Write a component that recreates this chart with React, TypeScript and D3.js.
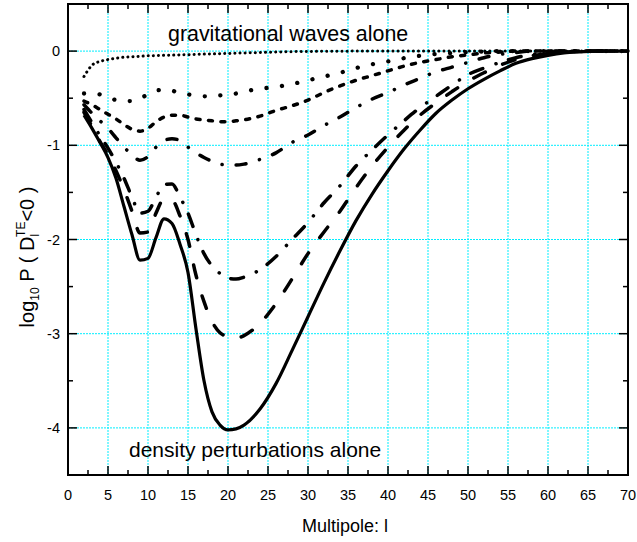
import React from "react";
import * as d3 from "d3";

const ell = [2,3,4,5,6,7,8,9,10,11,12,13,14,15,16,17,18,19,20,21,22,24,26,28,30,32,34,36,38,40,42,44,46,48,50,52,54,56,58,60,62,64,66,70];

const gwOnly = [-0.27,-0.15,-0.11,-0.09,-0.075,-0.065,-0.06,-0.055,-0.05,-0.048,-0.045,-0.043,-0.04,-0.038,-0.035,-0.032,-0.03,-0.027,-0.025,-0.022,-0.02,-0.015,-0.01,-0.006,-0.004,-0.002,-0.001,0,0,0,0,0,0,0,0,0,0,0,0,0,0,0,0,0];
const mixA = [-0.45,-0.45,-0.46,-0.49,-0.52,-0.53,-0.53,-0.5,-0.46,-0.42,-0.41,-0.42,-0.45,-0.46,-0.47,-0.48,-0.48,-0.47,-0.46,-0.45,-0.43,-0.4,-0.38,-0.35,-0.31,-0.27,-0.23,-0.18,-0.14,-0.11,-0.075,-0.05,-0.03,-0.02,-0.01,-0.005,0,0,0,0,0,0,0,0];
const mixB = [-0.53,-0.57,-0.62,-0.67,-0.72,-0.78,-0.83,-0.85,-0.82,-0.75,-0.7,-0.68,-0.68,-0.7,-0.72,-0.73,-0.74,-0.75,-0.75,-0.74,-0.73,-0.69,-0.63,-0.58,-0.52,-0.44,-0.37,-0.31,-0.26,-0.21,-0.16,-0.12,-0.09,-0.06,-0.04,-0.02,-0.01,0,0,0,0,0,0,0];
const mixC = [-0.57,-0.66,-0.74,-0.82,-0.92,-1.02,-1.1,-1.16,-1.12,-1.02,-0.95,-0.93,-0.95,-1.02,-1.08,-1.13,-1.17,-1.2,-1.21,-1.21,-1.2,-1.15,-1.08,-0.97,-0.89,-0.79,-0.7,-0.6,-0.51,-0.44,-0.36,-0.29,-0.22,-0.17,-0.12,-0.07,-0.035,-0.015,0,0,0,0,0,0];
const mixD = [-0.62,-0.76,-0.9,-1.03,-1.18,-1.35,-1.55,-1.72,-1.7,-1.55,-1.42,-1.41,-1.55,-1.72,-1.95,-2.15,-2.28,-2.36,-2.41,-2.42,-2.4,-2.32,-2.18,-2.0,-1.82,-1.61,-1.43,-1.22,-1.05,-0.89,-0.74,-0.6,-0.48,-0.36,-0.25,-0.18,-0.12,-0.07,-0.035,-0.015,-0.005,0,0,0];
const mixE = [-0.65,-0.8,-0.96,-1.1,-1.27,-1.47,-1.7,-1.93,-1.92,-1.72,-1.57,-1.58,-1.75,-2.0,-2.38,-2.66,-2.87,-2.99,-3.03,-3.05,-3.02,-2.89,-2.68,-2.42,-2.15,-1.92,-1.7,-1.45,-1.22,-1.02,-0.84,-0.68,-0.55,-0.43,-0.32,-0.23,-0.15,-0.09,-0.05,-0.025,-0.01,-0.003,0,0];
const densOnly = [-0.68,-0.82,-0.97,-1.13,-1.35,-1.65,-1.95,-2.22,-2.2,-1.98,-1.78,-1.83,-2.05,-2.35,-2.95,-3.5,-3.83,-3.97,-4.02,-4.01,-3.97,-3.8,-3.53,-3.18,-2.82,-2.46,-2.12,-1.8,-1.52,-1.27,-1.04,-0.84,-0.66,-0.52,-0.4,-0.3,-0.21,-0.13,-0.08,-0.045,-0.02,-0.008,0,0];

const xTicks = [0,5,10,15,20,25,30,35,40,45,50,55,60,65,70];
const yTicks = [0,-1,-2,-3,-4];

const series = [
  { v: gwOnly, w: 3, dash: "0.1 5" },
  { v: mixA, w: 4.3, dash: "0.1 15.5" },
  { v: mixB, w: 3.5, dash: "4 8.5" },
  { v: mixC, w: 3.5, dash: "10 14 0.1 14" },
  { v: mixD, w: 3.5, dash: "13 14 0.1 13" },
  { v: mixE, w: 3.5, dash: "13 19" },
  { v: densOnly, w: 3.2, dash: null as string | null },
];

export default function App() {
  const W = 637, H = 542;
  const L = 68, R = 628, T = 4, B = 475;
  const x = d3.scaleLinear().domain([0, 70]).range([L, R]);
  const y = d3.scaleLinear().domain([-4.5, 0.5]).range([B, T]);
  const line = d3.line<[number, number]>().x(d => x(d[0])).y(d => y(d[1])).curve(d3.curveMonotoneX);
  const font = "Arial, 'Liberation Sans', sans-serif";
  const xMinor = d3.range(0, 70.01, 2.5);
  const yMinor = d3.range(-4.5, 0.51, 0.5);
  return (
    <svg width={W} height={H} style={{ position: "absolute", left: 0, top: 0, background: "#fff" }} fontFamily={font}>
      <rect x={0} y={0} width={W} height={H} fill="#fff" />
      {xTicks.filter(t => t > 0 && t < 70).map(t => (
        <line key={"gx" + t} x1={x(t)} x2={x(t)} y1={T} y2={B} stroke="#00eeff" strokeWidth={1} strokeDasharray="2 1" />
      ))}
      {yTicks.map(t => (
        <line key={"gy" + t} x1={L} x2={R} y1={y(t)} y2={y(t)} stroke="#00eeff" strokeWidth={1} strokeDasharray="2 1" />
      ))}
      {series.map((s, i) => (
        <path key={i} d={line(ell.map((l, j) => [l, s.v[j]] as [number, number])) || ""} fill="none" stroke="#000"
          strokeWidth={s.w} strokeDasharray={s.dash || undefined} strokeLinecap={s.dash ? "round" : "butt"} strokeLinejoin="round" />
      ))}
      {xMinor.map(t => {
        const major = Math.abs(t % 5) < 1e-6;
        const len = major ? 9 : 5;
        return (
          <g key={"xt" + t}>
            <line x1={x(t)} x2={x(t)} y1={B} y2={B - len} stroke="#000" strokeWidth={1.5} />
            <line x1={x(t)} x2={x(t)} y1={T} y2={T + len} stroke="#000" strokeWidth={1.5} />
          </g>
        );
      })}
      {yMinor.map(t => {
        const major = Math.abs(t % 1) < 1e-6;
        const len = major ? 9 : 5;
        return (
          <g key={"yt" + t}>
            <line x1={L} x2={L + len} y1={y(t)} y2={y(t)} stroke="#000" strokeWidth={1.5} />
            <line x1={R} x2={R - len} y1={y(t)} y2={y(t)} stroke="#000" strokeWidth={1.5} />
          </g>
        );
      })}
      <rect x={L} y={T} width={R - L} height={B - T} fill="none" stroke="#000" strokeWidth={2} />
      {xTicks.map(t => (
        <text key={"xl" + t} x={x(t)} y={B + 25} textAnchor="middle" fontSize={14.5}>{t}</text>
      ))}
      {yTicks.map(t => (
        <text key={"yl" + t} x={L - 8} y={y(t) + 5} textAnchor="end" fontSize={14.5}>{t}</text>
      ))}
      <text x={345} y={532} textAnchor="middle" fontSize={18}>Multipole: l</text>
      <text transform="translate(34,257) rotate(-90)" textAnchor="middle" fontSize={20}>
        log<tspan fontSize={12} dy={5}>10</tspan><tspan dy={-5}> P ( D</tspan><tspan fontSize={12} dy={5}>l</tspan><tspan fontSize={12} dx={-3} dy={-14}>TE</tspan><tspan dy={9}>&lt;0 )</tspan>
      </text>
      <text x={168} y={41} fontSize={21.4}>gravitational waves alone</text>
      <text x={129} y={457} fontSize={21}>density perturbations alone</text>
    </svg>
  );
}
